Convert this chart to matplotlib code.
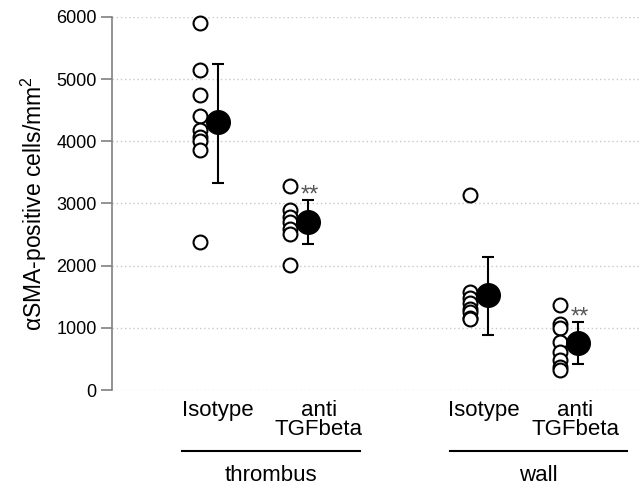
import numpy as np
import matplotlib.pyplot as plt
from matplotlib.transforms import blended_transform_factory

plt.rcParams['font.family'] = ['Liberation Sans', 'DejaVu Sans']
plt.rcParams['mathtext.fontset'] = 'custom'
plt.rcParams['mathtext.rm'] = 'Liberation Sans'

# individual animals (open circles)
thr_iso = [5900, 5150, 4750, 4400, 4180, 4070, 4000, 3860, 2380]
thr_anti = [3280, 2900, 2780, 2700, 2590, 2510, 2010]
wall_iso = [3140, 1580, 1480, 1400, 1300, 1250, 1160, 1150]
wall_anti = [1370, 1060, 1000, 770, 610, 480, 370, 320]
groups = [thr_iso, thr_anti, wall_iso, wall_anti]

# mean and error bar ends
means = [4310, 2700, 1530, 750]
err_lo = [3330, 2350, 885, 420]
err_hi = [5240, 3060, 2140, 1100]
signif = ['', '**', '', '**']

cat_labels = ['Isotype', 'anti\nTGFbeta', 'Isotype', 'anti\nTGFbeta']
tissues = ['thrombus', 'wall']
yticks = [0, 1000, 2000, 3000, 4000, 5000, 6000]

pos = np.array([1, 2, 4, 5])
lab_pos = [1.0, 2.12, 3.95, 4.97]

fig = plt.figure(figsize=(6.44, 4.91), dpi=100)
ax = fig.add_axes([0.1739, 0.2057, 0.8199, 0.7597])

for p, vals in zip(pos, groups):
    ax.plot(np.full(len(vals), p - 0.2), vals, 'o', ms=10, mfc='white',
            mec='black', mew=1.5, clip_on=False, zorder=3)

lo = np.array(means) - np.array(err_lo)
hi = np.array(err_hi) - np.array(means)
ax.errorbar(pos, means, yerr=[lo, hi], fmt='o', ms=17, color='black',
            ecolor='black', elinewidth=1.5, capsize=4.5, capthick=1.5,
            zorder=4, clip_on=False)

for p, top, s in zip(pos, err_hi, signif):
    if s:
        ax.annotate(s, (p + 0.02, top), xytext=(0, -1.5), textcoords='offset points',
                    ha='center', va='baseline', fontsize=17, color='#555555')

ax.set_xlim(-0.18, 5.69)
ax.set_ylim(0, 6000)
ax.set_yticks(yticks)
ax.set_yticklabels([str(v) for v in yticks], fontsize=13)
ax.set_xticks([])
ax.grid(axis='y', linestyle=(0, (1, 2)), color='#c8c8c8', linewidth=1)
ax.set_axisbelow(True)
for side in ['top', 'right', 'bottom']:
    ax.spines[side].set_visible(False)
ax.spines['left'].set_color('#808080')
ax.spines['left'].set_linewidth(1.2)
ax.tick_params(axis='y', length=8, width=1.2, color='#808080', pad=3)
ax.set_ylabel('αSMA-positive cells/mm$^{2}$', fontsize=16.5, labelpad=5)

tr = blended_transform_factory(ax.transData, ax.transAxes)
for x, lab in zip(lab_pos, cat_labels):
    ax.text(x, -0.028, lab, transform=tr, ha='center', va='top',
            fontsize=16, linespacing=0.85)

spans = [(0.6, 2.58), (3.58, 5.54)]
for (a, b), name in zip(spans, tissues):
    ax.plot([a, b], [-0.1635, -0.1635], color='black', lw=1.5,
            transform=tr, clip_on=False)
    ax.text((a + b) / 2, -0.228, name, transform=tr, ha='center',
            va='center', fontsize=16)

fig.savefig('out.png', dpi=100)
